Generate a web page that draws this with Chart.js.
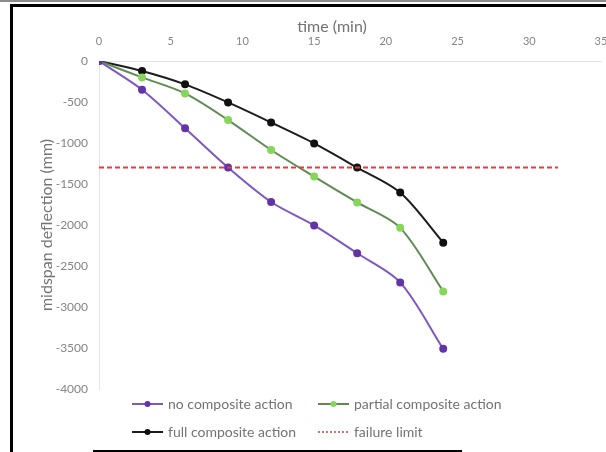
<!DOCTYPE html>
<html>
<head>
<meta charset="utf-8">
<script src="https://cdn.jsdelivr.net/npm/chart.js@4/dist/chart.umd.min.js"></script>
<style>
  html, body { margin: 0; padding: 0; background: #fff; }
  #wrap { position: relative; width: 606px; height: 452px; overflow: hidden; }
  #wrap canvas { position: absolute; left: 0; top: 0; }
  .edge { position: absolute; }
</style>
</head>
<body>
<div id="wrap">
  <canvas id="deflectionChart" width="606" height="452"></canvas>
  <div class="edge" style="left:0;top:0;width:606px;height:2px;background:#8c8c8c"></div>
  <div class="edge" style="left:10px;top:4px;width:596px;height:3px;background:#000"></div>
  <div class="edge" style="left:10px;top:4px;width:3px;height:448px;background:#000"></div>
  <div class="edge" style="left:93px;top:450px;width:369px;height:2px;background:#000"></div>
</div>
<script>
// fire test: midspan deflection against time
const times = [0, 3, 6, 9, 12, 15, 18, 21, 24];
const noComposite = [0, -350, -820, -1300, -1720, -2005, -2345, -2700, -3510];
const partialComposite = [0, -200, -395, -720, -1085, -1410, -1725, -2035, -2810];
const fullComposite = [0, -122, -285, -505, -750, -1005, -1300, -1605, -2215];
const failureLimit = -1300;
const failureSpan = [0, 32];
const xTicks = [0, 5, 10, 15, 20, 25, 30, 35];
const yTicks = [0, -500, -1000, -1500, -2000, -2500, -3000, -3500, -4000];

const FONT = 'Lato, "Open Sans", sans-serif';

const pts = (ys) => times.map((t, i) => ({ x: t, y: ys[i] }));

const series = (label, ys, line, marker) => ({
    label,
    data: pts(ys),
    borderColor: line,
    backgroundColor: marker,
    pointBackgroundColor: marker,
    pointBorderColor: marker,
    pointRadius: 3,
    pointHoverRadius: 3,
    borderWidth: 2,
    tension: 0.3,
    order: 1
});

// legend laid out as a 2 x 2 grid under the plot
const gridLegend = {
    id: 'gridLegend',
    afterDraw(chart) {
        const ctx = chart.ctx;
        const ds = chart.data.datasets;
        const cells = [
            [ds[0], 132, 404], [ds[1], 318, 404],
            [ds[2], 132, 432], [ds[3], 318, 432]
        ];
        ctx.save();
        ctx.font = '14px ' + FONT;
        ctx.textBaseline = 'middle';
        ctx.textAlign = 'left';
        cells.forEach(([d, x, y]) => {
            ctx.beginPath();
            ctx.strokeStyle = d.borderColor;
            if (d.legendDash) {
                ctx.lineWidth = 1.5;
                ctx.setLineDash(d.legendDash);
            } else {
                ctx.lineWidth = 2;
                ctx.setLineDash([]);
            }
            ctx.moveTo(x, y);
            ctx.lineTo(x + 31, y);
            ctx.stroke();
            ctx.setLineDash([]);
            if (d.pointRadius) {
                ctx.beginPath();
                ctx.fillStyle = d.pointBackgroundColor;
                ctx.arc(x + 15.5, y, 3, 0, Math.PI * 2);
                ctx.fill();
            }
            ctx.fillStyle = '#737373';
            ctx.fillText(d.label, x + 36, y);
        });
        ctx.restore();
    }
};

// x axis title sits above the tick labels
const timeTitle = {
    id: 'timeTitle',
    afterDraw(chart) {
        const { ctx, chartArea } = chart;
        ctx.save();
        ctx.font = '16px ' + FONT;
        ctx.fillStyle = '#737373';
        ctx.textAlign = 'center';
        ctx.textBaseline = 'middle';
        ctx.fillText('time (min)', (chartArea.left + chartArea.right) / 2 - 18, 27);
        ctx.restore();
    }
};

new Chart(document.getElementById('deflectionChart'), {
    type: 'line',
    data: {
        datasets: [
            series('no composite action', noComposite, '#7b58c4', '#6433a8'),
            series('partial composite action', partialComposite, '#5e8c50', '#86d65c'),
            series('full composite action', fullComposite, '#1c1c1c', '#111111'),
            {
                label: 'failure limit',
                data: failureSpan.map(t => ({ x: t, y: failureLimit })),
                borderColor: '#e83a3a',
                borderWidth: 2,
                borderDash: [5, 3],
                legendDash: [2, 2],
                pointRadius: 0,
                order: 0
            }
        ]
    },
    options: {
        responsive: false,
        animation: false,
        events: [],
        layout: { padding: { left: 0, top: 0, right: 5, bottom: 63 } },
        plugins: {
            legend: { display: false },
            tooltip: { enabled: false }
        },
        scales: {
            x: {
                type: 'linear',
                position: 'top',
                min: 0,
                max: 35,
                afterBuildTicks: (s) => { s.ticks = xTicks.map(v => ({ value: v })); },
                afterFit: (s) => {
                    s.height = 61;
                    // let the last label run past the edge instead of shrinking the plot
                    s.paddingLeft = 0;
                    s.paddingRight = 0;
                },
                grid: { display: false, drawTicks: false },
                border: { display: true, color: '#e4e4e4', width: 1 },
                ticks: { padding: 13, color: '#858585', font: { family: FONT, size: 11 } }
            },
            y: {
                min: -4000,
                max: 0,
                afterBuildTicks: (s) => { s.ticks = yTicks.map(v => ({ value: v })); },
                afterFit: (s) => { s.width = 99; },
                grid: { display: false, drawTicks: false },
                border: { display: true, color: '#e4e4e4', width: 1 },
                ticks: {
                    padding: 11,
                    color: '#858585',
                    font: { family: FONT, size: 12 },
                    callback: (v) => String(v)
                },
                title: {
                    display: true,
                    text: 'midspan deflection (mm)',
                    color: '#737373',
                    font: { family: FONT, size: 16 },
                    padding: { top: 37, bottom: 0 }
                }
            }
        }
    },
    plugins: [gridLegend, timeTitle]
});
</script>
</body>
</html>
